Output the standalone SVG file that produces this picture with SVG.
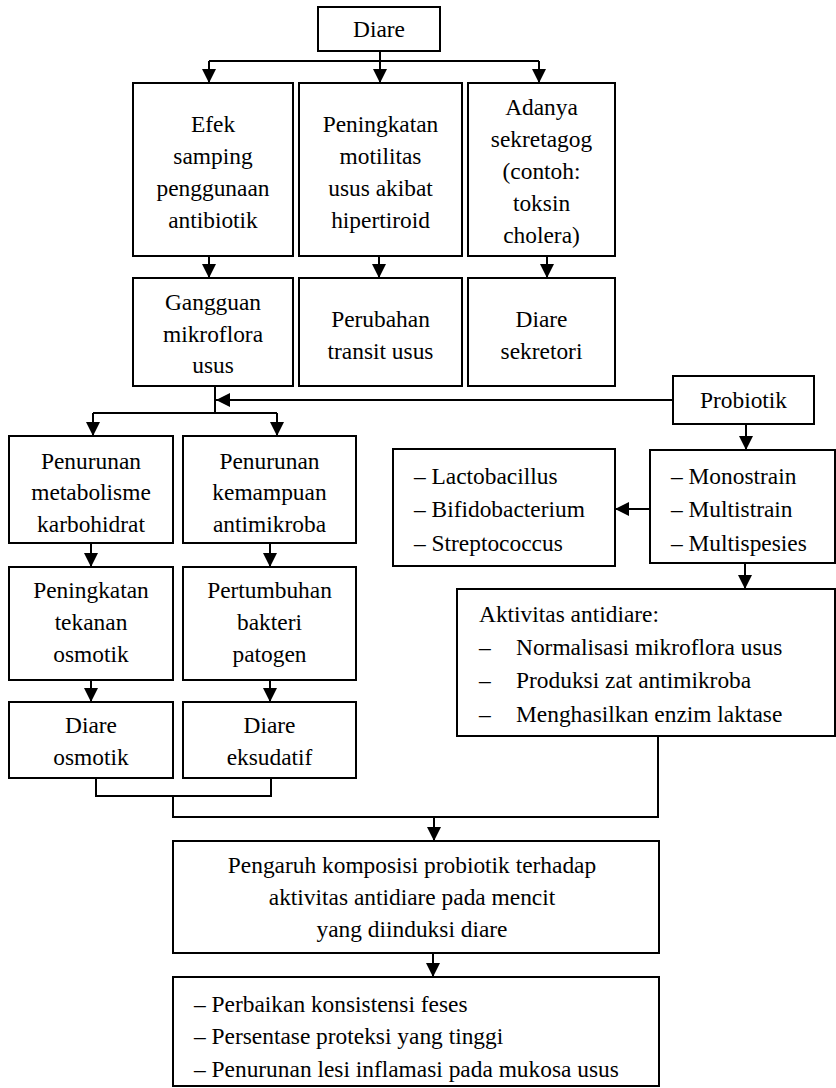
<svg xmlns="http://www.w3.org/2000/svg" width="836" height="1088" viewBox="0 0 836 1088">
<style>
.box{fill:#fff;stroke:#000;stroke-width:2}
.ln{fill:none;stroke:#000;stroke-width:2}
.ar{fill:none;stroke:#000;stroke-width:2;marker-end:url(#ah)}
text{font-family:"Liberation Serif","Times New Roman",serif;font-size:23.4px;fill:#000}
.c{text-anchor:middle}
</style>
<defs>
<marker id="ah" viewBox="0 0 14 14" markerWidth="14" markerHeight="14" refX="14" refY="7" orient="auto" markerUnits="userSpaceOnUse">
<path d="M0,0 L14,7 L0,14 z" fill="#000"/>
</marker>
</defs>
<rect width="836" height="1088" fill="#fff"/>
<g id="connectors">
<path class="ln" d="M209,61 H539"/>
<path class="ar" d="M380,51 V83"/>
<path class="ar" d="M209,61 V83"/>
<path class="ar" d="M539,61 V83"/>
<path class="ar" d="M209,256 V278"/>
<path class="ar" d="M379,256 V278"/>
<path class="ar" d="M547,256 V278"/>
<path class="ln" d="M215,386 V413"/>
<path class="ar" d="M673,400 H216"/>
<path class="ln" d="M93,413 H277"/>
<path class="ar" d="M93,413 V436"/>
<path class="ar" d="M277,413 V436"/>
<path class="ar" d="M91,543 V567"/>
<path class="ar" d="M270,543 V567"/>
<path class="ar" d="M91,680 V702"/>
<path class="ar" d="M270,680 V702"/>
<path class="ar" d="M746,424 V450"/>
<path class="ar" d="M650,509 H615"/>
<path class="ar" d="M745,563 V589"/>
<path class="ln" d="M96,778 V796 H271 V778"/>
<path class="ln" d="M173,796 V817 H658 V736"/>
<path class="ar" d="M434,817 V841"/>
<path class="ar" d="M433,953 V977"/>
</g>
<g id="n-diare"><rect class="box" x="318" y="7" width="122" height="44"/><text class="c" x="379" y="37">Diare</text></g>
<g id="n-efek"><rect class="box" x="133" y="83" width="160" height="173"/>
<text class="c" x="213" y="132">Efek</text><text class="c" x="213" y="164">samping</text><text class="c" x="213" y="196">penggunaan</text><text class="c" x="213" y="228">antibiotik</text></g>
<g id="n-motilitas"><rect class="box" x="299" y="83" width="163" height="173"/>
<text class="c" x="380.5" y="132">Peningkatan</text><text class="c" x="380.5" y="164">motilitas</text><text class="c" x="380.5" y="196">usus akibat</text><text class="c" x="380.5" y="228">hipertiroid</text></g>
<g id="n-sekretagog"><rect class="box" x="468" y="83" width="147" height="173"/>
<text class="c" x="541.5" y="115">Adanya</text><text class="c" x="541.5" y="147">sekretagog</text><text class="c" x="541.5" y="179">(contoh:</text><text class="c" x="541.5" y="211">toksin</text><text class="c" x="541.5" y="243">cholera)</text></g>
<g id="n-gangguan"><rect class="box" x="133" y="278" width="160" height="108"/>
<text class="c" x="213" y="310">Gangguan</text><text class="c" x="213" y="342">mikroflora</text><text class="c" x="213" y="373">usus</text></g>
<g id="n-transit"><rect class="box" x="299" y="278" width="163" height="108"/>
<text class="c" x="380.5" y="327">Perubahan</text><text class="c" x="380.5" y="359">transit usus</text></g>
<g id="n-sekretori"><rect class="box" x="468" y="278" width="147" height="108"/>
<text class="c" x="541.5" y="327">Diare</text><text class="c" x="541.5" y="359">sekretori</text></g>
<g id="n-probiotik"><rect class="box" x="673" y="376" width="141" height="48"/><text class="c" x="743.5" y="408">Probiotik</text></g>
<g id="n-metabolisme"><rect class="box" x="9" y="436" width="164" height="107"/>
<text class="c" x="91" y="469">Penurunan</text><text class="c" x="91" y="500">metabolisme</text><text class="c" x="91" y="532">karbohidrat</text></g>
<g id="n-kemampuan"><rect class="box" x="183" y="436" width="173" height="107"/>
<text class="c" x="269.5" y="469">Penurunan</text><text class="c" x="269.5" y="500">kemampuan</text><text class="c" x="269.5" y="532">antimikroba</text></g>
<g id="n-genus"><rect class="box" x="393" y="449" width="222" height="117"/>
<text x="414" y="484">– Lactobacillus</text><text x="414" y="517">– Bifidobacterium</text><text x="414" y="551">– Streptococcus</text></g>
<g id="n-strain"><rect class="box" x="650" y="450" width="185" height="113"/>
<text x="671" y="484">– Monostrain</text><text x="671" y="517">– Multistrain</text><text x="671" y="551">– Multispesies</text></g>
<g id="n-tekanan"><rect class="box" x="9" y="567" width="164" height="113"/>
<text class="c" x="91" y="598">Peningkatan</text><text class="c" x="91" y="630">tekanan</text><text class="c" x="91" y="662">osmotik</text></g>
<g id="n-pertumbuhan"><rect class="box" x="183" y="567" width="173" height="113"/>
<text class="c" x="269.5" y="598">Pertumbuhan</text><text class="c" x="269.5" y="630">bakteri</text><text class="c" x="269.5" y="662">patogen</text></g>
<g id="n-aktivitas"><rect class="box" x="457" y="589" width="378" height="147"/>
<text x="479" y="622">Aktivitas antidiare:</text>
<text x="479" y="655">–</text><text x="516" y="655">Normalisasi mikroflora usus</text>
<text x="479" y="688">–</text><text x="516" y="688">Produksi zat antimikroba</text>
<text x="479" y="722">–</text><text x="516" y="722">Menghasilkan enzim laktase</text></g>
<g id="n-osmotik"><rect class="box" x="9" y="702" width="164" height="76"/>
<text class="c" x="91" y="733">Diare</text><text class="c" x="91" y="765">osmotik</text></g>
<g id="n-eksudatif"><rect class="box" x="183" y="702" width="173" height="76"/>
<text class="c" x="269.5" y="733">Diare</text><text class="c" x="269.5" y="765">eksudatif</text></g>
<g id="n-pengaruh"><rect class="box" x="173" y="841" width="486" height="112"/>
<text class="c" x="412" y="873">Pengaruh komposisi probiotik terhadap</text>
<text class="c" x="412" y="905">aktivitas antidiare pada mencit</text>
<text class="c" x="412" y="937">yang diinduksi diare</text></g>
<g id="n-hasil"><rect class="box" x="173" y="977" width="486" height="109"/>
<text x="194" y="1012">– Perbaikan konsistensi feses</text>
<text x="194" y="1044">– Persentase proteksi yang tinggi</text>
<text x="194" y="1077">– Penurunan lesi inflamasi pada mukosa usus</text></g>
</svg>
